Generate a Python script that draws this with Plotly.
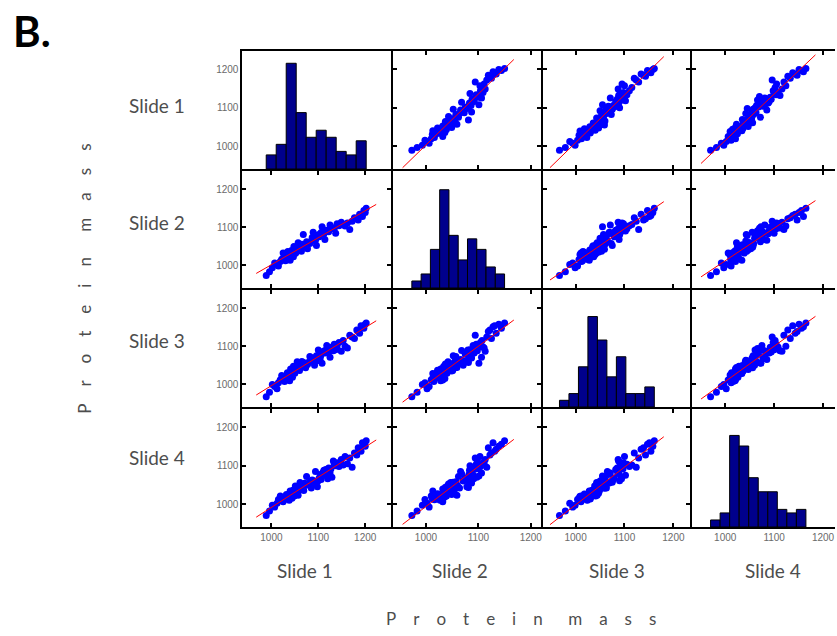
import numpy as np
import plotly.graph_objects as go

# ---- protein mass of each spot, measured on four slides ----
slide_names = ["Slide 1", "Slide 2", "Slide 3", "Slide 4"]

slide_1 = [989, 996, 1002, 1007, 1012, 1015, 1019, 1022, 1025, 1028,
           1030, 1032, 1033, 1034, 1035, 1036, 1037, 1038, 1038, 1039,
           1040, 1041, 1041, 1042, 1043, 1043, 1044, 1045, 1045, 1046,
           1047, 1047, 1048, 1048, 1049, 1049, 1050, 1050, 1051, 1051,
           1052, 1054, 1055, 1056, 1057, 1058, 1059, 1060, 1061, 1062,
           1064, 1065, 1066, 1068, 1069, 1071, 1073, 1075, 1077, 1080,
           1082, 1085, 1087, 1089, 1092, 1094, 1096, 1098, 1100, 1102,
           1104, 1106, 1108, 1110, 1112, 1114, 1116, 1118, 1120, 1122,
           1125, 1127, 1129, 1132, 1134, 1137, 1140, 1144, 1149, 1153,
           1157, 1162, 1167, 1172, 1177, 1182, 1185, 1188, 1191, 1194,
           1197, 1200, 1202]

slide_2 = [973, 983, 993, 1006, 1002, 998, 1010, 1016, 1032, 1015,
           1012, 1018, 1024, 1021, 1036, 1019, 1025, 1027, 1030, 1028,
           1013, 1030, 1028, 1031, 1039, 1029, 1033, 1036, 1034, 1038,
           1022, 1034, 1037, 1049, 1035, 1039, 1041, 1040, 1043, 1041,
           1032, 1042, 1042, 1040, 1059, 1048, 1045, 1051, 1047, 1044,
           1037, 1055, 1046, 1081, 1054, 1050, 1056, 1062, 1043, 1060,
           1057, 1064, 1073, 1087, 1071, 1066, 1052, 1078, 1080, 1075,
           1082, 1086, 1101, 1085, 1083, 1068, 1092, 1090, 1091, 1088,
           1106, 1100, 1097, 1098, 1096, 1084, 1109, 1104, 1113, 1107,
           1103, 1111, 1094, 1116, 1125, 1122, 1119, 1134, 1131, 1128,
           1144, 1139, 1150]

slide_3 = [967, 979, 999, 994, 988, 1004, 1012, 1023, 1011, 1007,
           1014, 1020, 1017, 1030, 1015, 1021, 1027, 1024, 1026, 1009,
           1028, 1032, 1040, 1034, 1031, 1031, 1028, 1033, 1018, 1034,
           1037, 1047, 1037, 1035, 1038, 1041, 1039, 1029, 1041, 1039,
           1042, 1046, 1059, 1048, 1044, 1045, 1042, 1036, 1043, 1048,
           1053, 1060, 1051, 1057, 1049, 1054, 1043, 1056, 1052, 1058,
           1073, 1063, 1061, 1069, 1050, 1065, 1075, 1062, 1090, 1079,
           1067, 1077, 1055, 1086, 1084, 1089, 1082, 1102, 1094, 1085,
           1071, 1097, 1093, 1088, 1105, 1091, 1098, 1110, 1087, 1115,
           1100, 1095, 1129, 1124, 1120, 1143, 1139, 1134, 1154, 1151,
           1147, 1158, 1161]

slide_4 = [970, 982, 997, 992, 1002, 1012, 1021, 1011, 1006, 1016,
           1014, 1025, 1015, 1013, 1019, 1017, 1018, 1010, 1017, 1020,
           1034, 1019, 1022, 1023, 1026, 1024, 1015, 1030, 1026, 1036,
           1027, 1028, 1029, 1025, 1031, 1021, 1033, 1033, 1032, 1047,
           1039, 1037, 1041, 1038, 1023, 1040, 1041, 1037, 1056, 1046,
           1044, 1045, 1051, 1043, 1035, 1054, 1050, 1072, 1052, 1049,
           1058, 1042, 1063, 1055, 1060, 1085, 1057, 1045, 1061, 1068,
           1077, 1064, 1073, 1083, 1088, 1079, 1090, 1075, 1066, 1094,
           1081, 1092, 1070, 1112, 1104, 1100, 1108, 1098, 1116, 1102,
           1124, 1105, 1120, 1096, 1133, 1128, 1147, 1143, 1138, 1160,
           1156, 1151, 1165]

mass_ticks = [1000, 1100, 1200]
axis_title = "Protein mass"
panel_tag = "B."

# ---- page geometry (pixels) and styling ----
W, H = 837, 636
COL_PX = [(243, 392), (394, 542), (544, 692), (694, 837)]
ROW_PX = [(51, 169), (171, 288), (290, 407), (409, 527)]
COL_RANGE = [(938.3, 1255.0), (937.1, 1219.0), (932.7, 1234.7), (932.7, 1224.5)]
ROW_RANGE = [(940.0, 1248.0)] * 4
HIST_FILL = [0.896, 0.84, 0.773, 0.776]   # tallest bar as a share of panel height
N_BINS = 10
ROW_LABEL_X = 157
ROW_LABEL_Y = [105, 222, 340, 458]
COL_LABEL_X = [306, 461, 618, 775]
COL_LABEL_Y = 570

NAVY = "#00008c"
DOT_BLUE = "#0000ff"
TEXT_GREY = "#4d4d4d"
TICK_FONT = dict(family="Liberation Sans, Arial, sans-serif", size=10, color="#6a6a6a")
LABEL_FONT = dict(family="Lato, Open Sans, sans-serif", size=19, color=TEXT_GREY)
TITLE_FONT = dict(family="Lato, Open Sans, sans-serif", size=17, color=TEXT_GREY)

slides = [np.array(s, dtype=float) for s in (slide_1, slide_2, slide_3, slide_4)]


def px_x(p):
    return p / W


def px_y(p):
    return 1 - p / H


def ax_id(k):
    return ("x", "y") if k == 1 else (f"x{k}", f"y{k}")


def spread(text, gap="\u2002\u2002", word_gap="\u2003\u2003"):
    return word_gap.join(gap.join(w) for w in text.split())


fig = go.Figure()
layout_axes = {}

for r in range(4):
    for c in range(4):
        k = r * 4 + c + 1
        xa, ya = ax_id(k)
        x_dom = [px_x(COL_PX[c][0]), px_x(COL_PX[c][1])]
        y_dom = [px_y(ROW_PX[r][1]), px_y(ROW_PX[r][0])]
        is_hist = r == c
        last_col = c == 3

        if is_hist:
            counts, edges = np.histogram(slides[c], bins=N_BINS)
            centers = (edges[:-1] + edges[1:]) / 2
            fig.add_trace(go.Bar(
                x=centers, y=counts, width=np.diff(edges),
                marker=dict(color=NAVY, line=dict(color="black", width=1)),
                xaxis=xa, yaxis=ya, showlegend=False, hoverinfo="skip"))
            y_range = [0, counts.max() / HIST_FILL[c]]
        else:
            xv, yv = slides[c], slides[r]
            slope, icpt = np.polyfit(xv, yv, 1)
            span = xv.max() - xv.min()
            xs = np.array([xv.min() - 0.1 * span, xv.max() + 0.1 * span])
            fig.add_trace(go.Scatter(
                x=xv, y=yv, mode="markers",
                marker=dict(color=DOT_BLUE, size=7, line=dict(width=0)),
                xaxis=xa, yaxis=ya, showlegend=False, hoverinfo="skip"))
            fig.add_trace(go.Scatter(
                x=xs, y=slope * xs + icpt, mode="lines",
                line=dict(color="#ff0000", width=1),
                xaxis=xa, yaxis=ya, showlegend=False, hoverinfo="skip"))
            y_range = list(ROW_RANGE[r])

        common = dict(showgrid=False, zeroline=False, showline=True,
                      linecolor="black", linewidth=2,
                      ticks="" if is_hist else "inside", ticklen=4,
                      tickwidth=1.5, tickcolor="black",
                      tickvals=mass_ticks, tickfont=TICK_FONT)
        x_key = "xaxis" if k == 1 else f"xaxis{k}"
        y_key = "yaxis" if k == 1 else f"yaxis{k}"
        layout_axes[x_key] = dict(
            common, domain=x_dom, anchor=ya, range=list(COL_RANGE[c]),
            mirror=True if is_hist else "ticks",
            showticklabels=(r == 3))
        y_common = dict(common)
        if is_hist:
            y_common["tickvals"] = []
        layout_axes[y_key] = dict(
            y_common, domain=y_dom, anchor=xa, range=y_range,
            mirror=False if last_col else (True if is_hist else "ticks"),
            showticklabels=(c == 0 and not is_hist))

# mass labels beside the first-row histogram, on the Slide 1 scale
layout_axes["yaxis17"] = dict(
    overlaying="y", anchor="x", side="left", range=list(ROW_RANGE[0]),
    tickvals=mass_ticks, ticks="", showline=False, showgrid=False,
    zeroline=False, tickfont=TICK_FONT, ticklabelstandoff=3)
fig.add_trace(go.Scatter(x=[None], y=[None], xaxis="x", yaxis="y17",
                         mode="markers", showlegend=False, hoverinfo="skip"))

annotations = []
for i, name in enumerate(slide_names):
    annotations.append(dict(text=name, x=px_x(ROW_LABEL_X), y=px_y(ROW_LABEL_Y[i]),
                            xref="paper", yref="paper", showarrow=False,
                            xanchor="center", yanchor="middle", font=LABEL_FONT))
    annotations.append(dict(text=name, x=px_x(COL_LABEL_X[i]), y=px_y(COL_LABEL_Y),
                            xref="paper", yref="paper", showarrow=False,
                            xanchor="center", yanchor="middle", font=LABEL_FONT))

annotations.append(dict(text=spread(axis_title), x=px_x(522), y=px_y(618),
                        xref="paper", yref="paper", showarrow=False,
                        xanchor="center", yanchor="middle", font=TITLE_FONT))
annotations.append(dict(text=spread(axis_title), x=px_x(84), y=px_y(279),
                        xref="paper", yref="paper", showarrow=False, textangle=-90,
                        xanchor="center", yanchor="middle", font=TITLE_FONT))
annotations.append(dict(text=f"<b>{panel_tag}</b>", x=px_x(11), y=px_y(31),
                        xref="paper", yref="paper", showarrow=False,
                        xanchor="left", yanchor="middle",
                        font=dict(family="Lato, Open Sans, sans-serif", size=42,
                                  color="black")))

fig.update_layout(
    width=W, height=H, autosize=False,
    margin=dict(l=0, r=0, t=0, b=0),
    paper_bgcolor="white", plot_bgcolor="white",
    showlegend=False, annotations=annotations,
    **layout_axes)

fig.write_html("out.html")
